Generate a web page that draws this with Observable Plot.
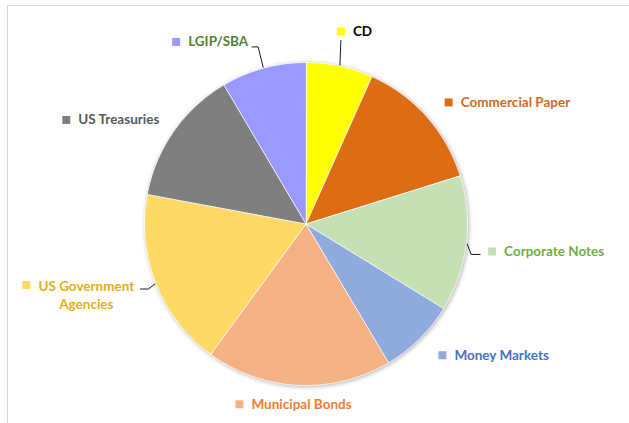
<!DOCTYPE html>
<html><head><meta charset="utf-8">
<script src="https://cdn.jsdelivr.net/npm/d3@7"></script>
<script src="https://cdn.jsdelivr.net/npm/@observablehq/plot@0.6"></script>
<style>
body{margin:0;background:#fff;}
#wrap{position:relative;width:629px;height:423px;overflow:hidden;background:#fff;}
#frame{position:absolute;left:7px;top:5px;width:640px;height:440px;border-top:1.5px solid #d9d9d9;border-left:1.5px solid #d9d9d9;}
#wrap svg{position:absolute;left:0;top:0;}
</style></head><body><div id="wrap"><div id="frame"></div></div>
<script>
// ---- data ----
const names = ["CD","Commercial Paper","Corporate Notes","Money Markets","Municipal Bonds","US Government Agencies","US Treasuries","LGIP/SBA"];
const values = [6.7, 13.5, 13.6, 7.7, 18.6, 17.9, 13.6, 8.5];
const labelText = ["CD","Commercial Paper","Corporate Notes","Money Markets","Municipal Bonds","US Government\nAgencies","US Treasuries","LGIP/SBA"];
const sliceColors = ["#FFFF00","#DD6D14","#C5E0B4","#8FAADC","#F4B183","#FFD966","#7F7F7F","#9999FF"];
const textColors = ["#000000","#D2691E","#70AD47","#4472C4","#ED7D31","#E2AF14","#595959","#548235"];

// ---- layout ----
const W = 629, H = 423;
const cx = 305.5, cy = 223.5, R = 161.5;
const labelNudge = [[-3,-15],[7,-1],[6,5],[9,2],[-58,-1],[-111,-6],[-91,0],[-82,-7]];
const leaderOffsets = {"CD":[[0,9]],"Corporate Notes":[[-21,3],[-12,3]],"US Government Agencies":[[122,4],[114,4]],"LGIP/SBA":[[82,5],[76,5]]};
const font = "Lato, 'Open Sans', sans-serif";

const polar = (a, r) => [cx + r * Math.sin(a), cy - r * Math.cos(a)];
const arcs = d3.pie().sort(null).value(d => d)(values);

const slicePts = [];
arcs.forEach((a, i) => {
  slicePts.push({name: names[i], color: sliceColors[i], x: cx, y: cy});
  const n = Math.max(2, Math.ceil((a.endAngle - a.startAngle) / (Math.PI / 360)));
  for (let k = 0; k <= n; k++) {
    const t = a.startAngle + (a.endAngle - a.startAngle) * k / n;
    const [x, y] = polar(t, R);
    slicePts.push({name: names[i], color: sliceColors[i], x, y});
  }
});

const labels = arcs.map((a, i) => {
  const mid = (a.startAngle + a.endAngle) / 2;
  const [px, py] = polar(mid, R + 20);
  return {name: names[i], mid, sx: px + labelNudge[i][0], sy: py + labelNudge[i][1],
          text: labelText[i], color: sliceColors[i], tcolor: textColors[i]};
});

const leaders = [];
labels.forEach(l => {
  const offs = leaderOffsets[l.name];
  if (!offs) return;
  const [x, y] = polar(l.mid, R + 1);
  leaders.push({name: l.name, x, y});
  offs.forEach(o => leaders.push({name: l.name, x: l.sx + o[0], y: l.sy + o[1]}));
});

const single = labels.filter(l => !l.text.includes("\n"));
const multi = labels.filter(l => l.text.includes("\n"));

const chart = Plot.plot({
  width: W, height: H, margin: 0,
  x: {domain: [0, W], range: [0, W], axis: null},
  y: {domain: [0, H], range: [0, H], axis: null},
  color: {type: "identity"},
  style: {background: "transparent"},
  marks: [
    Plot.line(slicePts, {x: "x", y: "y", z: "name", fill: "color", stroke: "#ffffff", strokeWidth: 1, strokeOpacity: 0.8, curve: "linear-closed"}),
    Plot.line(leaders, {x: "x", y: "y", z: "name", stroke: "#1a1a1a", strokeWidth: 1}),
    Plot.dot(labels, {x: "sx", y: "sy", symbol: "square", r: 4.5, fill: "color", stroke: null}),
    Plot.text(single, {x: d => d.sx + 12, y: "sy", text: "text", fill: "tcolor", textAnchor: "start", fontSize: 13.5, fontWeight: "bold", fontFamily: font}),
    Plot.text(multi, {x: d => d.sx + 60, y: d => d.sy + 9, text: "text", fill: "tcolor", textAnchor: "middle", lineHeight: 1.34, fontSize: 13.5, fontWeight: "bold", fontFamily: font})
  ]
});
d3.select(chart).select("g[aria-label=line]").style("filter", "drop-shadow(1px 1px 2px rgba(0,0,0,0.3))");
document.getElementById("wrap").appendChild(chart);
</script></body></html>
